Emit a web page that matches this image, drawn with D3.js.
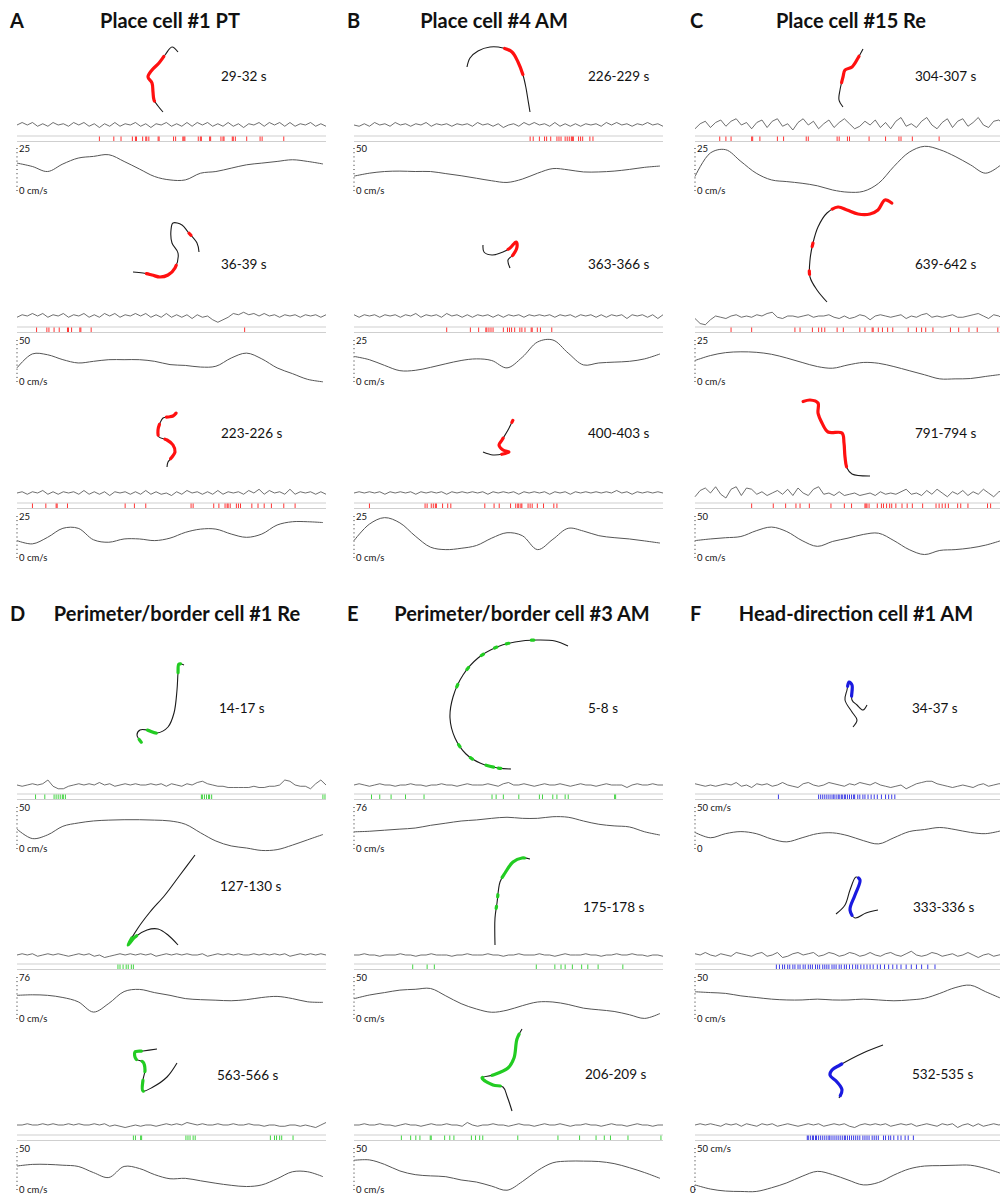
<!DOCTYPE html>
<html><head><meta charset="utf-8">
<script src="https://cdn.jsdelivr.net/npm/d3@7"></script>
<style>body{margin:0;background:#fff} text{font-family:Lato,"Open Sans",sans-serif;fill:#111}</style>
</head><body><svg id="chart" width="1000" height="1194"></svg>
<script>
// ---------- DATA ----------
const panelLetters = ["A","B","C","D","E","F"];
const panelTitles = ["Place cell #1 PT","Place cell #4 AM","Place cell #15 Re","Perimeter/border cell #1 Re","Perimeter/border cell #3 AM","Head-direction cell #1 AM"];
const panelColors = ["#ff1010","#ff1010","#ff1010","#22cc22","#22cc22","#1a1ae0"];
const timeLabels = [["29-32 s","36-39 s","223-226 s"],["226-229 s","363-366 s","400-403 s"],["304-307 s","639-642 s","791-794 s"],
  ["14-17 s","127-130 s","563-566 s"],["5-8 s","175-178 s","206-209 s"],["34-37 s","333-336 s","532-535 s"]];
const speedMax = [[25,50,25],[50,25,25],[25,25,50],[50,76,50],[76,50,50],[50,50,50]];
const speedTopLabels = [["25","50","25"],["50","25","25"],["25","25","50"],["50","76","50"],["76","50","50"],["50 cm/s","50","50 cm/s"]];
const speedZeroLabels = [["0 cm/s","0 cm/s","0 cm/s"],["0 cm/s","0 cm/s","0 cm/s"],["0 cm/s","0 cm/s","0 cm/s"],["0 cm/s","0 cm/s","0 cm/s"],["0 cm/s","0 cm/s","0 cm/s"],["0","0 cm/s","0"]];
const windowSec = 3;

// speed (cm/s), 21 samples across the 3 s window
const speed_A1 = [16,14,11,15.5,19,20,21,17,12.5,8,6,6,10,11,13,15,16,17,18,17,15.5];
const speed_A2 = [16,33,32,26,22,24,26,26,26,24,20,19,17,18,28,34,27,16,9,2,-1];
const speed_A3 = [10,8,12,17.5,17.5,10.5,9,11,11,10,11.5,15,17,17,14,12,14,19.5,21.5,21.5,21];
const speed_B1 = [16.5,20,22,22.5,22,22,19.5,17,14,11,9,13,20,25.5,24,21.5,21.5,22.5,24.5,27,28.5];
const speed_B2 = [15,13,9.5,6.3,6.5,8.3,10.5,12.5,13.5,12.5,8,14.5,23.8,25,17,9.8,11,11.5,12,13.5,16.5];
const speed_B3 = [10,20,24,20.8,12.8,6,4.5,5.3,7,11.5,14.8,13,4.5,10.8,17.5,15.8,13,11.8,11,9.8,8.5];
const speed_C1 = [8,22,24,17,10,6,5,4,2.5,0,-1.3,-0.8,4,14,22.5,26,24,20,15,10,15];
const speed_C2 = [12.5,15.5,17.3,17.8,17.5,16.3,14,11.3,8.8,7.8,9.8,11.3,10.8,8.8,6.3,3.8,1.3,1.3,1.5,2.8,4];
const speed_C3 = [20,22,23.5,25,32,36.5,31,20,13,19,23,27.5,29,20,9,3,8,9,11,14.5,20];
const speed_D1 = [23,11.5,16,26.5,30.5,33,34,34.5,34.5,34,33,29,18.5,8.5,2.5,0,-3,-2,3.5,10,16.5];
const speed_D2 = [42,43,42,38,30,11,27,49,53,47,42,36,34,33,32,34,38,40,36,30,29];
const speed_D3 = [28,30,30,29,27.5,20,14,27.5,25,17.5,12.5,13,10,7,4.5,3,5,12.5,21,21,15];
const speed_E1 = [30,31,33,35,37,42,46,50,52,55,57,55,55,58,57,50,44,41,39,30,24];
const speed_E2 = [23.5,28,31,34,35,36,27,17.5,11,7,9.5,15,19.5,19.5,16.5,12,10,8,4,-0.5,5.5];
const speed_E3 = [35,35.5,30,22,17.5,16,15,11,8.5,3.5,-1.5,9,22.5,32,34,34,33.5,31,26,20,13];
const speed_F1 = [19,12.5,17.5,20,17.5,11,7.5,12.5,17.5,18.5,15,9,5,12.5,20,22.5,25,22.5,19,17.5,21];
const speed_F2 = [32,31,30,27,25,23,22,22,23,22,22,23,22,21,22,24,30,37,40,32,24];
const speed_F3 = [5,0,-2.5,-3,-3,1.5,7.5,15.5,21.5,17.5,11,5,8,17,24.5,28,28.5,29,29,25,19];

// spike times (s within window)
const spikes_A1 = [0.80,0.94,1.01,1.12,1.15,1.16,1.22,1.25,1.26,1.28,1.37,1.38,1.52,1.54,1.61,1.62,1.63,1.76,1.78,1.79,1.87,1.88,1.98,2.0,2.01,2.09,2.10,2.12,2.23,2.36,2.38,2.59];
const spikes_A2 = [0.19,0.29,0.31,0.36,0.41,0.49,0.50,0.53,0.61,0.62,0.72,2.21];
const spikes_A3 = [0.15,0.28,0.38,0.39,0.49,1.05,1.14,1.25,1.69,1.71,1.91,1.96,2.02,2.04,2.05,2.07,2.13,2.15,2.17,2.28,2.34,2.40,2.47,2.59,2.70];
const spikes_B1 = [1.71,1.74,1.80,1.85,1.87,1.91,1.97,1.99,2.01,2.05,2.07,2.09,2.11,2.12,2.13,2.18,2.20,2.22,2.29,2.32];
const spikes_B2 = [0.90,1.13,1.21,1.28,1.29,1.31,1.33,1.35,1.45,1.49,1.51,1.53,1.56,1.61,1.63,1.66,1.72,1.73,1.78,1.81,1.92];
const spikes_B3 = [0.15,0.69,0.71,0.75,0.77,0.79,0.80,0.86,0.91,0.94,1.27,1.36,1.41,1.52,1.57,1.59,1.60,1.62,1.63,1.69,1.71,1.73,1.78,1.84,1.94,1.97];
const spikes_C1 = [0.24,0.30,0.35,0.55,0.56,0.63,0.80,0.86,1.08,1.10,1.38,1.40,1.48,1.50,1.69,1.85,1.98,2.00,2.11,2.37];
const spikes_C2 = [0.35,0.55,0.97,1.02,1.14,1.20,1.23,1.26,1.38,1.44,1.60,1.65,1.72,1.73,1.78,1.82,1.87,1.92,2.07,2.15,2.20,2.24,2.31,2.48,2.56,2.66,2.74,2.94];
const spikes_C3 = [0.55,0.76,0.88,0.98,1.02,1.11,1.32,1.45,1.52,1.65,1.66,1.67,1.69,1.77,1.81,1.83,1.86,1.89,1.91,1.95,2.01,2.06,2.11,2.21,2.34,2.37,2.40,2.43,2.46,2.55,2.58,2.65,2.84,2.87];
const spikes_D1 = [0.18,0.27,0.36,0.38,0.40,0.42,0.44,0.45,0.47,1.79,1.80,1.82,1.84,1.86,1.87,1.89,2.97,2.99];
const spikes_D2 = [0.98,1.00,1.03,1.06,1.08,1.11,1.13];
const spikes_D3 = [1.13,1.15,1.20,1.21,1.64,1.66,1.68,1.71,1.73,2.46,2.50,2.52,2.55,2.57,2.68];
const spikes_E1 = [0.17,0.25,0.36,0.50,0.68,1.34,1.38,1.45,1.60,1.80,1.83,1.93,1.97,2.05,2.08,2.53,2.54];
const spikes_E2 = [0.57,0.71,0.78,1.77,1.95,2.01,2.05,2.12,2.21,2.27,2.37,2.61];
const spikes_E3 = [0.46,0.55,0.60,0.64,0.74,0.75,0.88,0.93,0.97,1.14,1.18,1.22,1.25,1.59,1.98,2.19,2.35,2.43,2.49,2.66,2.98];
const spikes_F1 = [0.81,1.20,1.22,1.24,1.26,1.28,1.30,1.32,1.34,1.35,1.37,1.39,1.40,1.42,1.43,1.45,1.46,1.48,1.50,1.52,1.54,1.55,1.58,1.60,1.63,1.65,1.68,1.71,1.74,1.77,1.81,1.85,1.88,1.91,1.94];
const spikes_F2 = [0.79,0.82,0.85,0.87,0.90,0.92,0.95,0.97,1.00,1.02,1.05,1.07,1.10,1.12,1.14,1.17,1.19,1.21,1.24,1.26,1.28,1.30,1.33,1.35,1.37,1.40,1.42,1.45,1.47,1.50,1.53,1.56,1.58,1.61,1.64,1.67,1.70,1.73,1.77,1.80,1.84,1.88,1.92,1.96,2.00,2.05,2.10,2.15,2.20,2.26,2.33];
const spikes_F3 = [1.09,1.10,1.12,1.14,1.15,1.17,1.18,1.20,1.22,1.24,1.26,1.28,1.30,1.31,1.33,1.35,1.37,1.39,1.41,1.43,1.45,1.46,1.48,1.50,1.52,1.54,1.56,1.58,1.60,1.63,1.65,1.67,1.69,1.72,1.74,1.76,1.78,1.83,1.85,1.88,1.90,1.93,1.97,2.00,2.04,2.07,2.12];

// LFP traces (arbitrary units, 61 samples)
const lfp_A1 = [0,2,0,2,-1,1,-1,2,0,1,-1,2,0,2,-1,1,-2,1,-1,2,-1,1,0,2,-1,1,-2,1,0,2,-1,1,-1,2,-1,2,0,2,-1,1,-1,2,-1,1,-2,1,0,2,-1,2,0,2,-1,2,-1,1,0,2,-1,1,-1];
const lfp_A2 = [-1,1,0,2,0,2,-1,1,0,2,-1,1,0,2,-1,1,-1,2,0,2,-1,1,0,2,0,2,-1,1,-1,2,-1,1,-1,1,-2,1,-1,0,-3,-5,-3,-1,2,1,3,1,2,0,2,0,1,-1,1,0,1,-1,1,0,1,-1,1];
const lfp_A3 = [0,1,-1,1,0,2,-1,1,-1,1,0,1,-1,2,-1,1,-1,1,-2,1,0,1,-1,1,-1,2,-1,1,-1,0,-2,1,-1,2,0,1,-1,1,-1,2,-1,1,0,1,-1,2,0,3,-1,2,0,1,-1,3,-1,1,0,1,-1,1,-1];
const lfp_B1 = [0,-1,1,-1,2,0,1,-1,2,0,1,-1,1,0,2,-1,1,0,1,-1,1,0,1,-1,2,0,1,-1,1,-2,0,1,-1,2,0,2,0,1,-1,2,-1,1,-1,1,-1,1,0,1,-1,2,0,2,0,1,-1,1,0,2,0,1,-1];
const lfp_B2 = [1,-1,1,0,1,-1,1,0,1,-1,1,0,2,-1,1,0,1,-1,2,0,1,-1,1,-1,1,0,1,-1,1,-1,1,0,1,-1,1,0,1,0,1,-1,1,0,1,-1,1,0,1,-1,1,-1,1,0,1,-2,1,0,1,-1,1,-2,1];
const lfp_B3 = [0,1,0,1,0,1,-1,1,0,1,0,1,-1,1,0,1,0,1,-1,1,0,1,0,1,0,1,-1,1,0,1,0,1,-1,1,0,1,0,1,-1,1,0,1,-1,1,0,1,0,1,0,1,0,2,0,1,-1,1,0,1,0,1,0];
const lfp_C1 = [-3,1,3,-2,2,4,-1,3,5,0,2,-3,2,4,-2,3,5,-1,1,-4,2,5,0,3,-3,1,4,-2,2,5,1,-3,-1,3,0,4,-2,2,-3,3,6,-1,1,-2,3,6,0,-3,2,5,-2,3,5,-1,2,6,0,-2,3,4,0];
const lfp_C2 = [-2,-6,-7,-3,0,-1,-2,0,1,-1,0,-1,1,0,2,3,-1,-2,0,0,-1,0,1,-1,0,0,1,-1,-2,0,-2,-1,1,0,-3,0,1,0,-1,0,1,-2,0,-1,1,2,-1,0,-1,0,1,-1,-1,0,1,2,0,-2,1,0,-3];
const lfp_C3 = [-3,2,4,0,5,-1,-4,3,5,-2,4,3,-1,1,-2,0,2,-1,3,-2,4,0,-2,3,5,-1,0,-2,1,-2,-1,0,-2,-1,0,-2,1,-1,0,-1,1,3,-1,0,-2,2,-1,3,0,-3,1,-1,2,-2,1,-1,3,0,-3,1,2];
const lfp_D1 = [0,-1,0,1,0,1,4,-1,-3,-3,-1,0,1,0,1,0,2,0,1,-1,0,1,0,1,0,0,1,0,1,-1,1,0,-1,1,0,2,3,1,0,-1,-1,-2,-2,-2,-2,-2,-1,-2,-2,-1,-1,0,4,3,0,-1,-1,-3,1,4,0];
const lfp_D2 = [0,1,0,1,-1,0,1,0,1,0,-1,0,1,0,1,-1,0,-2,-1,0,1,0,1,0,1,0,1,-1,0,1,0,1,0,1,0,0,1,-1,0,1,0,1,0,1,0,0,1,0,1,0,1,0,1,-1,0,1,0,1,0,1,0];
const lfp_D3 = [0,0,1,0,0,1,0,1,0,0,1,0,1,0,0,1,0,1,-1,0,-1,-2,-1,0,-1,0,0,-1,0,1,0,1,0,2,1,0,1,0,0,1,0,0,1,0,0,1,0,0,-1,0,0,-1,-1,0,0,-1,0,-1,-2,0,2];
const lfp_E1 = [0,1,0,-1,0,1,0,0,-1,0,0,1,0,0,-1,0,0,1,0,0,-1,0,1,0,0,0,1,0,-1,1,2,0,0,1,0,-1,0,1,0,0,1,0,-1,0,1,0,0,-1,0,1,0,0,0,-2,0,1,0,0,1,0,0];
const lfp_E2 = [0,0,1,0,0,-1,0,0,0,1,0,0,-1,0,0,1,0,0,0,-1,0,0,1,0,0,0,1,0,0,-1,0,0,1,0,0,0,1,0,0,-1,0,1,0,0,0,1,0,0,-1,0,0,1,0,0,1,0,0,-1,0,0,-1];
const lfp_E3 = [0,0,1,0,0,1,0,0,-1,0,1,0,0,-1,0,1,0,0,1,0,0,-1,2,0,-1,0,0,1,0,0,-1,0,1,0,0,-1,0,1,0,0,1,0,-1,0,0,1,0,0,-1,0,1,0,0,-1,0,1,0,0,-1,0,0];
const lfp_F1 = [1,0,-1,0,-1,0,1,0,2,-1,0,-2,1,0,1,-1,0,2,0,-1,-2,1,2,0,-1,0,2,1,0,-1,1,0,2,1,0,2,0,-1,-2,-1,0,-3,-1,1,2,3,3,1,0,-1,-2,-1,0,-1,-2,0,1,-1,0,1,1];
const lfp_F2 = [1,0,2,0,-1,1,0,-1,2,1,0,-1,1,2,-1,0,2,-2,-1,1,2,0,1,2,-1,0,2,1,-1,0,2,1,-1,0,2,0,-1,1,2,0,-1,1,3,0,-1,0,2,1,-1,0,1,-1,0,2,0,-2,0,1,-1,0,1];
const lfp_F3 = [0,1,0,1,0,-1,1,0,1,-1,1,0,-1,1,0,1,-1,0,1,0,-1,0,1,0,1,-1,0,1,0,1,-1,-2,0,1,0,1,0,1,-1,0,1,0,1,-1,0,1,0,-1,1,0,1,-2,0,1,-1,1,-1,0,1,0,1];

// trajectories (arena units, relative to the block origin) and firing segments (fraction of path)
const traj_A1 = [[161,-73],[155,-78],[148,-70],[142,-62],[135,-55],[131,-48],[135,-42],[136,-33],[137,-25],[141,-19],[146,-13]];
const fire_A1 = [[0.24,0.84]];
const traj_A2 = [[182,-64],[180,-73],[171,-84],[165,-91],[156,-93],[154,-86],[155,-73],[161,-63],[158,-48],[151,-41],[143,-39],[135,-41],[126,-43],[116,-44]];
const fire_A2 = [[0.14,0.16],[0.64,0.9]];
const traj_A3 = [[160,-81],[156,-77],[151,-76],[146,-75],[143,-70],[141,-63],[142,-56],[150,-53],[156,-48],[158,-41],[155,-36],[151,-31],[150,-26]];
const fire_A3 = [[0.02,0.16],[0.3,0.44],[0.55,0.88]];
const traj_B1 = [[113,-58],[116,-67],[124,-74],[136,-78],[149,-77],[158,-73],[164,-63],[169,-50],[172,-37],[174,-25],[176,-13]];
const fire_B1 = [[0.4,0.68]];
const traj_B2 = [[129,-71],[130,-64],[138,-61],[149,-64],[156,-68],[162,-74],[163,-69],[159,-61],[154,-56],[156,-48]];
const fire_B2 = [[0.45,0.8]];
const traj_B3 = [[159,-73],[154,-63],[148,-53],[145,-48],[149,-43],[155,-41],[149,-39],[139,-38],[129,-41]];
const fire_B3 = [[0.01,0.04],[0.3,0.72]];
const traj_C1 = [[168,-76],[163,-67],[157,-58],[150,-55],[148,-48],[145,-35],[144,-25],[148,-18]];
const fire_C1 = [[0.12,0.62]];
const traj_C2 = [[198,-112],[190,-116],[183,-106],[175,-102],[163,-102],[152,-106],[143,-109],[132,-103],[123,-89],[118,-73],[115,-56],[115,-39],[122,-26],[132,-14]];
const fire_C2 = [[0.01,0.4],[0.63,0.65],[0.79,0.81]];
const traj_C3 = [[107,-91],[115,-93],[123,-90],[123,-80],[127,-70],[133,-61],[147,-60],[149,-50],[150,-36],[152,-25],[157,-19],[175,-17]];
const fire_C3 = [[0.01,0.78]];
const traj_D1 = [[167,-120],[162,-121],[161,-112],[160,-95],[157,-72],[151,-58],[140,-52],[130,-55],[123,-55],[120,-50],[125,-42]];
const fire_D1 = [[0.03,0.12],[0.72,0.8],[0.96,0.99]];
const traj_D2 = [[178,-100],[163,-80],[148,-60],[133,-43],[121,-27],[111,-10],[118,-18],[130,-25],[141,-26],[151,-20],[161,-10]];
const fire_D2 = [[0.6,0.72]];
const traj_D3 = [[140,-76],[126,-74],[118,-73],[119,-66],[126,-63],[128,-55],[126,-45],[126,-34],[136,-38],[150,-48],[160,-62]];
const fire_D3 = [[0.14,0.27],[0.32,0.42],[0.5,0.6]];
const traj_E1 = [[214,-139],[201,-144],[183,-145],[161,-143],[143,-138],[124,-127],[109,-110],[99,-88],[96,-67],[101,-47],[112,-31],[126,-22],[144,-17],[157,-16]];
const fire_E1 = [[0.14,0.15],[0.24,0.25],[0.29,0.3],[0.35,0.36],[0.43,0.44],[0.51,0.52],[0.76,0.77],[0.83,0.84],[0.9,0.93],[0.95,0.96]];
const traj_E2 = [[176,-96],[168,-97],[159,-93],[151,-82],[146,-73],[143,-52],[141,-37],[141,-10]];
const fire_E2 = [[0.05,0.35],[0.52,0.54],[0.63,0.65]];
const traj_E3 = [[168,-96],[163,-86],[160,-67],[154,-57],[139,-50],[128,-47],[139,-40],[149,-38],[153,-29],[158,-14]];
const fire_E3 = [[0.05,0.5],[0.58,0.76]];
const traj_F1 = [[158,-58],[162,-65],[157,-73],[150,-85],[152,-95],[154,-103],[157,-100],[157,-85],[162,-80],[168,-75],[172,-80]];
const fire_F1 = [[0.5,0.72]];
const traj_F2 = [[141,-41],[150,-50],[155,-65],[161,-78],[165,-75],[160,-60],[155,-45],[160,-37],[171,-42],[183,-45]];
const fire_F2 = [[0.4,0.75]];
const traj_F3 = [[188,-80],[168,-72],[145,-60],[137,-55],[135,-50],[142,-43],[147,-35],[144,-27]];
const fire_F3 = [[0.5,0.97]];

// ---------- LAYOUT ----------
const colLeft = [17, 354, 695];
const colW = 309;
const letterX = [10, 347, 690];
const titleCX = [170, 494, 851, 177, 522, 856];
const titleBase = [28, 621];
const rows = [
  [{lfp:125,rast:136,top:148,zero:190},{lfp:316,rast:327,top:340,zero:381},{lfp:493,rast:503,top:516,zero:557}],
  [{lfp:785,rast:794,top:807,zero:848},{lfp:955,rast:964,top:977,zero:1018},{lfp:1125,rast:1135,top:1148,zero:1189}]
];
const labelPos = [[[204,76],[204,264],[204,433]],[[234,76],[234,264],[234,433]],[[220,76],[220,264],[220,433]],
  [[202,708],[203,886],[200,1075]],[[234,708],[229,907],[231,1074]],[[217,708],[218,907],[217,1074]]];

const store = {
  speed:{A1:speed_A1,A2:speed_A2,A3:speed_A3,B1:speed_B1,B2:speed_B2,B3:speed_B3,C1:speed_C1,C2:speed_C2,C3:speed_C3,D1:speed_D1,D2:speed_D2,D3:speed_D3,E1:speed_E1,E2:speed_E2,E3:speed_E3,F1:speed_F1,F2:speed_F2,F3:speed_F3},
  spikes:{A1:spikes_A1,A2:spikes_A2,A3:spikes_A3,B1:spikes_B1,B2:spikes_B2,B3:spikes_B3,C1:spikes_C1,C2:spikes_C2,C3:spikes_C3,D1:spikes_D1,D2:spikes_D2,D3:spikes_D3,E1:spikes_E1,E2:spikes_E2,E3:spikes_E3,F1:spikes_F1,F2:spikes_F2,F3:spikes_F3},
  lfp:{A1:lfp_A1,A2:lfp_A2,A3:lfp_A3,B1:lfp_B1,B2:lfp_B2,B3:lfp_B3,C1:lfp_C1,C2:lfp_C2,C3:lfp_C3,D1:lfp_D1,D2:lfp_D2,D3:lfp_D3,E1:lfp_E1,E2:lfp_E2,E3:lfp_E3,F1:lfp_F1,F2:lfp_F2,F3:lfp_F3},
  traj:{A1:traj_A1,A2:traj_A2,A3:traj_A3,B1:traj_B1,B2:traj_B2,B3:traj_B3,C1:traj_C1,C2:traj_C2,C3:traj_C3,D1:traj_D1,D2:traj_D2,D3:traj_D3,E1:traj_E1,E2:traj_E2,E3:traj_E3,F1:traj_F1,F2:traj_F2,F3:traj_F3},
  fire:{A1:fire_A1,A2:fire_A2,A3:fire_A3,B1:fire_B1,B2:fire_B2,B3:fire_B3,C1:fire_C1,C2:fire_C2,C3:fire_C3,D1:fire_D1,D2:fire_D2,D3:fire_D3,E1:fire_E1,E2:fire_E2,E3:fire_E3,F1:fire_F1,F2:fire_F2,F3:fire_F3}
};

// ---------- DRAW ----------
const svg = d3.select("#chart");
svg.append("rect").attr("width",1000).attr("height",1194).attr("fill","#fff");

panelLetters.forEach((L, p) => {
  const r = Math.floor(p/3), c = p%3;
  const x0 = colLeft[c];
  const g = svg.append("g");
  g.append("text").attr("x", letterX[c]).attr("y", titleBase[r]).attr("font-size",20).attr("font-weight",700).text(L);
  g.append("text").attr("x", titleCX[p]).attr("y", titleBase[r]).attr("text-anchor","middle")
    .attr("font-size",20).attr("font-weight",700).text(panelTitles[p]);
  const color = panelColors[p];

  for (let b=0; b<3; b++) {
    const id = L + (b+1);
    const geo = rows[r][b];
    const t = d3.scaleLinear().domain([0, windowSec]).range([x0, x0+colW]);

    // trajectory
    const ax = d3.scaleLinear().domain([0,100]).range([x0, x0+100]);
    const ay = d3.scaleLinear().domain([0,100]).range([geo.lfp, geo.lfp+100]);
    const tl = d3.line().x(d=>ax(d[0])).y(d=>ay(d[1])).curve(d3.curveCatmullRom.alpha(0.5));
    const dStr = tl(store.traj[id]);
    g.append("path").attr("d", dStr).attr("fill","none").attr("stroke","#1a1a1a").attr("stroke-width",1.1);
    const fr = store.fire[id];
    const dash = [];
    fr.forEach((s, i) => {
      dash.push((s[1]-s[0])*1000);
      dash.push(i < fr.length-1 ? (fr[i+1][0]-s[1])*1000 : 3000);
    });
    g.append("path").attr("d", dStr).attr("fill","none").attr("stroke", color)
      .attr("stroke-width",3.2).attr("stroke-linecap","round").attr("pathLength",1000)
      .attr("stroke-dasharray", dash.join(" ")).attr("stroke-dashoffset", -fr[0][0]*1000);

    // time label
    const lp = labelPos[p][b];
    g.append("text").attr("x", x0+lp[0]).attr("y", lp[1]+4.5).attr("font-size",13.5).text(timeLabels[p][b]);

    // LFP
    const lv = store.lfp[id];
    const lx = d3.scaleLinear().domain([0, lv.length-1]).range([x0, x0+colW]);
    const ly = d3.scaleLinear().domain([-8,8]).range([geo.lfp+10, geo.lfp-10]);
    g.append("path").attr("d", d3.line().x((d,i)=>lx(i)).y(d=>ly(d))(lv))
      .attr("fill","none").attr("stroke","#4a4a4a").attr("stroke-width",0.8);

    // raster
    g.append("line").attr("x1",x0).attr("x2",x0+colW).attr("y1",geo.rast).attr("y2",geo.rast).attr("stroke","#cfcfcf").attr("stroke-width",1);
    g.append("line").attr("x1",x0).attr("x2",x0+colW).attr("y1",geo.rast+5.5).attr("y2",geo.rast+5.5).attr("stroke","#cfcfcf").attr("stroke-width",1);
    g.selectAll(null).data(store.spikes[id]).enter().append("line")
      .attr("x1", d=>t(d)).attr("x2", d=>t(d)).attr("y1", geo.rast+0.5).attr("y2", geo.rast+5)
      .attr("stroke", color).attr("stroke-width",1).attr("stroke-opacity",0.85);

    // speed
    const sv = store.speed[id];
    const mx = speedMax[p][b];
    const sy = d3.scaleLinear().domain([0, mx]).range([geo.zero, geo.top]);
    const sx = d3.scaleLinear().domain([0, sv.length-1]).range([x0, x0+colW-3]);
    g.append("path").attr("d", d3.line().x((d,i)=>sx(i)).y(d=>sy(d)).curve(d3.curveCatmullRom)(sv))
      .attr("fill","none").attr("stroke","#555").attr("stroke-width",1);
    const axis = d3.axisLeft(sy).tickValues(d3.range(0, 11).map(i=>i*mx/10)).tickSize(2).tickFormat("");
    const ag = g.append("g").attr("transform",`translate(${x0+1},0)`).call(axis);
    ag.select(".domain").remove();
    ag.selectAll(".tick line").attr("stroke","#777").attr("stroke-width",0.8);
    g.append("text").attr("x", x0+2).attr("y", geo.top+4).attr("font-size",9.5).text(speedTopLabels[p][b]);
    const zl = speedZeroLabels[p][b];
    const zLeft = (p===5 && b===2);
    g.append("text").attr("x", zLeft ? x0-5 : x0+2).attr("y", geo.zero+3.5).attr("font-size",9.5).text(zl);
  }
});
</script>
</body></html>
